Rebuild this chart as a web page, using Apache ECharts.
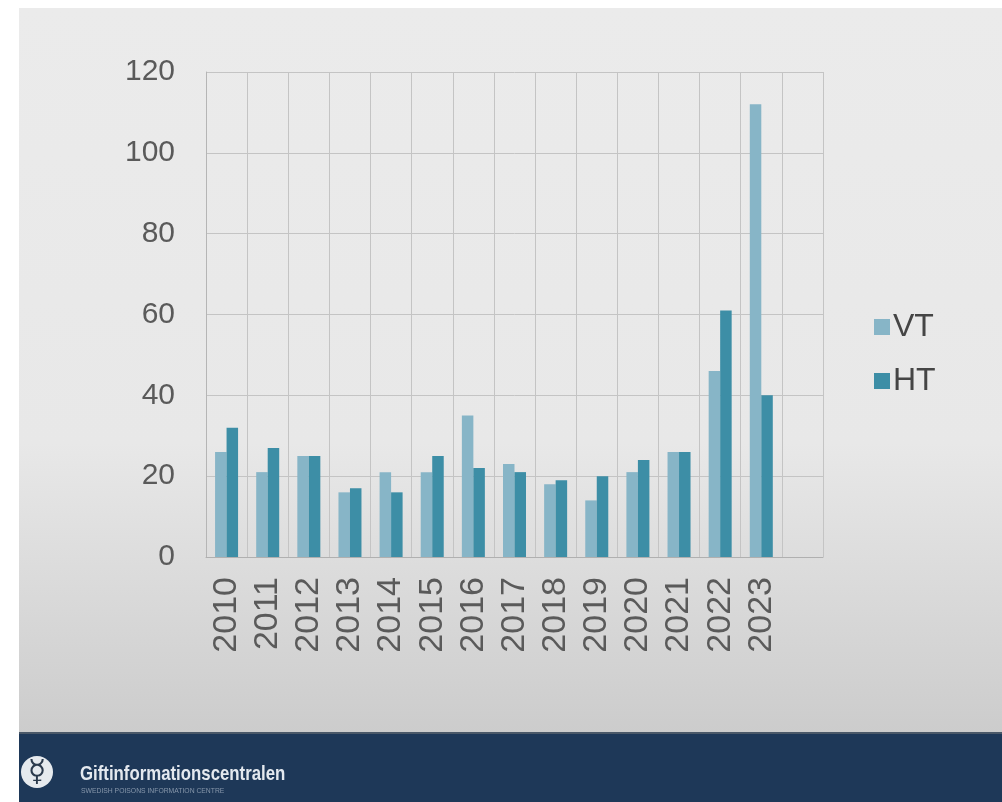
<!DOCTYPE html>
<html>
<head>
<meta charset="utf-8">
<script src="https://cdn.jsdelivr.net/npm/echarts@6/dist/echarts.min.js"></script>
<style>
html,body{margin:0;padding:0;background:#fff;}
#c{width:1002px;height:802px;}
</style>
</head>
<body>
<div id="c"></div>
<script>
var years = ['2010','2011','2012','2013','2014','2015','2016','2017','2018','2019','2020','2021','2022','2023',''];
var vtValues = [26, 21, 25, 16, 21, 21, 35, 23, 18, 14, 21, 26, 46, 112, null];
var htValues = [32, 27, 25, 17, 16, 25, 22, 21, 19, 20, 24, 26, 61, 40, null];
var yTicks = {min: 0, max: 120, interval: 20};

var chart = echarts.init(document.getElementById('c'), null, {renderer: 'canvas'});
var font = 'Liberation Sans, Arial, sans-serif';
chart.setOption({
  backgroundColor: '#ffffff',
  animation: false,
  graphic: [
    {type: 'rect', z: -10, shape: {x: 19, y: 8, width: 983, height: 725},
      style: {fill: new echarts.graphic.LinearGradient(0, 0, 0, 1, [
        {offset: 0, color: '#ebebeb'}, {offset: 0.6, color: '#e8e8e8'}, {offset: 1, color: '#cccccc'}])}},
    {type: 'rect', z: -10, shape: {x: 19, y: 733, width: 983, height: 69}, style: {fill: '#1e3858'}},
    {type: 'rect', z: -9, shape: {x: 19, y: 732, width: 983, height: 2}, style: {fill: '#4a5868'}},
    {type: 'circle', z: -8, shape: {cx: 37, cy: 772, r: 16}, style: {fill: '#e6eaee'}},
    {type: 'text', z: -7, x: 37, y: 773, style: {text: '\u263F', font: 'bold 30px DejaVu Sans', fill: '#2b3a4c', align: 'center', verticalAlign: 'middle'}},
    {type: 'text', z: -7, x: 80, y: 774, scaleX: 0.8, style: {text: 'Giftinformationscentralen', font: 'bold 21px Liberation Sans, Arial, sans-serif', fill: '#e4e9ef', verticalAlign: 'middle'}},
    {type: 'text', z: -7, x: 81, y: 791, style: {text: 'SWEDISH POISONS INFORMATION CENTRE', font: '6.8px Liberation Sans, Arial, sans-serif', fill: '#8797ab', verticalAlign: 'middle'}}
  ],
  grid: {left: 206, top: 72, right: 179, bottom: 245, containLabel: false},
  legend: {
    orient: 'vertical', left: 869, top: 306,
    itemWidth: 16, itemHeight: 16, itemGap: 22, icon: 'rect',
    textStyle: {fontSize: 32, color: '#454545', fontFamily: font, padding: [0, 0, 0, -2]},
    data: ['VT', 'HT']
  },
  xAxis: {
    type: 'category', data: years, boundaryGap: true,
    axisLine: {show: true, lineStyle: {color: '#b0b0b0', width: 1}},
    axisTick: {show: false},
    splitLine: {show: true, lineStyle: {color: '#c4c4c4', width: 1}},
    axisLabel: {rotate: 90, fontSize: 34, color: '#5a5a5a', fontFamily: font, margin: 20, interval: 0}
  },
  yAxis: {
    type: 'value', min: yTicks.min, max: yTicks.max, interval: yTicks.interval,
    axisLine: {show: true, lineStyle: {color: '#b5b5b5', width: 1}},
    axisTick: {show: false},
    splitLine: {show: true, lineStyle: {color: '#c4c4c4', width: 1}},
    axisLabel: {fontSize: 30, color: '#5a5a5a', fontFamily: font, margin: 31}
  },
  series: [
    {name: 'VT', type: 'bar', data: vtValues, barWidth: 11.5, barGap: '0%', itemStyle: {color: '#87b5c7'}},
    {name: 'HT', type: 'bar', data: htValues, barWidth: 11.5, barGap: '0%', itemStyle: {color: '#3d8ea6'}}
  ]
});
</script>
</body>
</html>
